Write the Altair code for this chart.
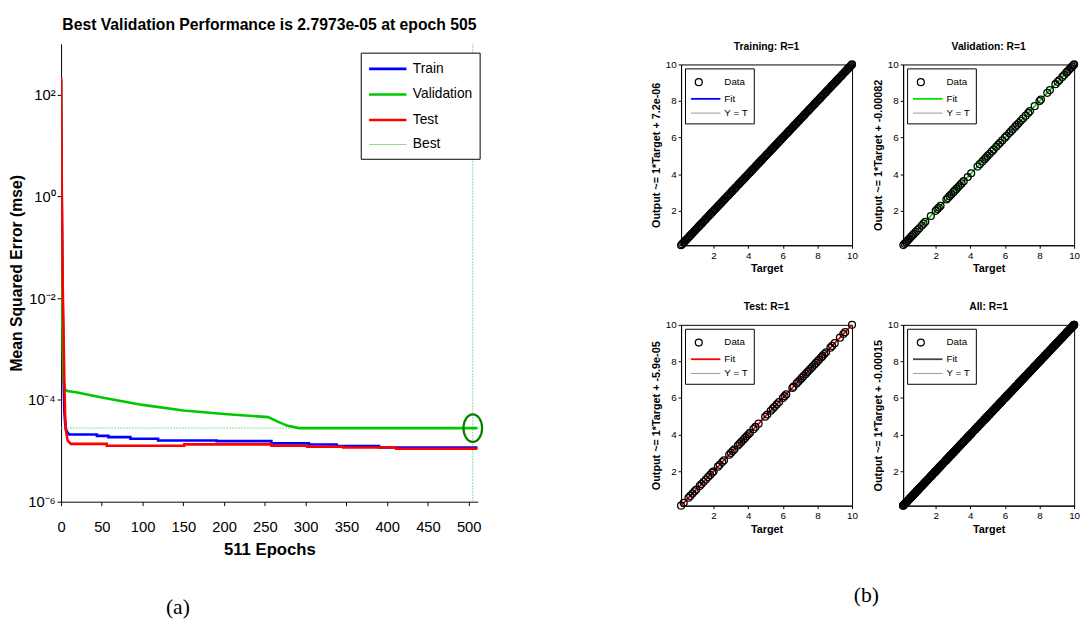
import altair as alt
import pandas as pd

FONT_N = "Liberation Sans Narrow, Arial Narrow, Liberation Sans, Arial, sans-serif"
FONT = "Liberation Sans, Arial, sans-serif"
SERIF = "Liberation Serif, Times New Roman, serif"

# ---------------- (a) training performance ----------------
n_epochs = 511
best_epoch = 505
best_perf = 2.7973e-05
y_limits = [1e-6, 1e3]

train_epoch = [0, 1, 2, 3, 4, 5, 6, 8, 10, 44, 44, 58, 58, 85, 85, 119, 119, 191, 191, 258, 258, 304, 304, 338, 338, 390, 390, 511]
train_mse = [2.0e2, 5e-1, 1e-2, 3e-4, 6e-5, 3.5e-5, 2.6e-5, 2.3e-5, 2.1e-5, 2.1e-5, 1.97e-5, 1.97e-5, 1.86e-5, 1.86e-5,
             1.73e-5, 1.73e-5, 1.6e-5, 1.6e-5, 1.55e-5, 1.55e-5, 1.4e-5, 1.4e-5, 1.33e-5, 1.33e-5, 1.25e-5, 1.25e-5,
             1.16e-5, 1.16e-5]

val_epoch = [0, 1, 2, 3, 5, 8, 20, 50, 100, 150, 200, 254, 265, 278, 292, 511]
val_mse = [2.0e2, 1e-2, 1e-3, 2.5e-4, 1.6e-4, 1.5e-4, 1.4e-4, 1.12e-4, 8e-5, 6.2e-5, 5.3e-5, 4.6e-5, 3.8e-5, 3.1e-5,
           2.7973e-5, 2.7973e-5]

test_epoch = [0, 1, 2, 3, 4, 5, 6, 8, 12, 56, 56, 151, 151, 258, 258, 302, 302, 346, 346, 411, 411, 511]
test_mse = [2.2e2, 1.0, 2e-2, 2.5e-3, 2.5e-4, 5e-5, 2.5e-5, 1.6e-5, 1.37e-5, 1.37e-5, 1.26e-5, 1.26e-5, 1.34e-5,
            1.34e-5, 1.26e-5, 1.26e-5, 1.2e-5, 1.2e-5, 1.16e-5, 1.16e-5, 1.1e-5, 1.1e-5]

perf_names = ["Train", "Validation", "Test", "Best"]
perf_colors = ["#0000ff", "#00c800", "#ff0000", "#8fd88f"]
perf_widths = [2.6, 2.6, 2.6, 1.0]
x_ticks_a = [0, 50, 100, 150, 200, 250, 300, 350, 400, 450, 500]
y_ticks_a = [1e-6, 1e-4, 1e-2, 1, 1e2]

# ---------------- (b) regression data ----------------
train_t = [0.12, 0.18, 0.25, 0.31, 0.36, 0.44, 0.5, 0.57, 0.63, 0.7, 0.76, 0.83, 0.9, 0.95, 1.02, 1.1, 1.16, 1.22,
           1.3, 1.35, 1.43, 1.5, 1.56, 1.63, 1.7, 1.77, 1.83, 1.9, 1.96, 2.04, 2.1, 2.17, 2.24, 2.3, 2.37, 2.43, 2.5,
           2.58, 2.63, 2.7, 2.78, 2.84, 2.9, 2.97, 3.05, 3.1, 3.18, 3.24, 3.3, 3.38, 3.45, 3.5, 3.57, 3.64, 3.7, 3.77,
           3.84, 3.9, 3.97, 4.05, 4.1, 4.18, 4.25, 4.3, 4.37, 4.44, 4.5, 4.58, 4.64, 4.7, 4.77, 4.83, 4.9, 4.97, 5.04,
           5.1, 5.17, 5.23, 5.3, 5.37, 5.44, 5.5, 5.56, 5.63, 5.7, 5.78, 5.84, 5.9, 5.97, 6.03, 6.1, 6.17, 6.24, 6.3,
           6.37, 6.43, 6.5, 6.57, 6.64, 6.7, 6.76, 6.83, 6.9, 6.97, 7.04, 7.1, 7.17, 7.23, 7.3, 7.37, 7.44, 7.5, 7.56,
           7.63, 7.7, 7.77, 7.83, 7.9, 7.97, 8.04, 8.1, 8.17, 8.23, 8.3, 8.37, 8.44, 8.5, 8.57, 8.63, 8.7, 8.77, 8.84,
           8.9, 8.96, 9.03, 9.1, 9.17, 9.23, 9.3, 9.37, 9.43, 9.5, 9.57, 9.63, 9.7, 9.77, 9.84, 9.9, 9.95, 10.0]
val_t = [0.13, 0.2, 0.28, 0.35, 0.42, 0.5, 0.58, 0.66, 0.74, 0.85, 0.95, 1.05, 1.2, 1.3, 1.4, 1.72, 2.0, 2.1, 2.18,
         2.28, 2.62, 2.7, 2.8, 2.9, 3.02, 3.1, 3.2, 3.3, 3.4, 3.5, 3.62, 3.85, 4.05, 4.42, 4.55, 4.7, 4.82, 4.9, 5.0,
         5.12, 5.25, 5.35, 5.5, 5.62, 5.72, 5.85, 6.0, 6.1, 6.25, 6.35, 6.45, 6.6, 6.7, 6.8, 6.92, 7.05, 7.2, 7.35,
         7.45, 7.72, 8.0, 8.08, 8.45, 8.6, 8.92, 9.05, 9.15, 9.32, 9.42, 9.55, 9.62, 9.72, 9.8, 9.88, 9.95, 10.0]
test_t = [0.12, 0.27, 0.55, 0.65, 0.78, 0.9, 1.0, 1.2, 1.3, 1.42, 1.55, 1.68, 1.8, 1.92, 2.0, 2.25, 2.35, 2.5, 2.6,
          2.9, 3.0, 3.1, 3.2, 3.4, 3.5, 3.6, 3.72, 3.82, 3.92, 4.02, 4.1, 4.3, 4.42, 4.6, 4.98, 5.1, 5.3, 5.42, 5.52,
          5.65, 5.78, 6.0, 6.1, 6.2, 6.55, 6.62, 6.8, 6.9, 7.0, 7.1, 7.2, 7.32, 7.42, 7.5, 7.6, 7.7, 7.82, 7.92, 8.02,
          8.1, 8.22, 8.3, 8.4, 8.5, 8.75, 8.85, 9.0, 9.3, 9.5, 9.6, 10.0]
all_t = train_t + val_t + test_t

panel_titles = ["Training: R=1", "Validation: R=1", "Test: R=1", "All: R=1"]
panel_intercepts = ["7.2e-06", "-0.00082", "-5.9e-05", "-0.00015"]
panel_fit_colors = ["#0000ff", "#00e000", "#ff0000", "#444444"]
line_ends = [0.12, 10.0]
reg_ticks = [2, 4, 6, 8, 10]
reg_names = ["Data", "Fit", "Y = T"]

# glyphs (unit box [-1,1] scaled by sqrt(size)/2)
DATA_CIRCLE = "M-0.44,0A0.44,0.44 0 1,1 0.44,0A0.44,0.44 0 1,1 -0.44,0Z"
SMALL_LINE = "M-1,0L2.75,0"
BIG_LINE = "M-1,0L3.75,0"
ELLIPSE_PATH = "M-0.68,0A0.68,1 0 1,1 0.68,0A0.68,1 0 1,1 -0.68,0Z"

indep = dict(color="independent", shape="independent", strokeWidth="independent")


def spacer(h):
    return alt.Chart(pd.DataFrame({"v": [0]})).mark_point(opacity=0, size=1).encode(
        x=alt.X("v:Q", axis=None), y=alt.Y("v:Q", axis=None)
    ).properties(width=1, height=h, view=alt.ViewBackground(stroke="transparent"))


# ---------------- panel (a) ----------------
rows = []
for name, ep, ms in [("Train", train_epoch, train_mse), ("Validation", val_epoch, val_mse), ("Test", test_epoch, test_mse)]:
    for i, (e, m) in enumerate(zip(ep, ms)):
        rows.append({"series": name, "epoch": e, "mse": m, "idx": i})
perf = pd.DataFrame(rows)

xs_a = alt.Scale(domain=[0, n_epochs], nice=False)
ys_a = alt.Scale(type="log", domain=y_limits, nice=False)
col_a = alt.Scale(domain=perf_names, range=perf_colors)
wid_a = alt.Scale(type="ordinal", domain=perf_names, range=perf_widths)
leg_a = alt.Legend(title=None, orient="none", legendX=305, legendY=9, symbolType=BIG_LINE, symbolSize=256,
                   labelFont=FONT_N, labelFontSize=14, labelColor="black", strokeColor="black", fillColor="white",
                   padding=7, rowPadding=9, labelOffset=27)

sup = "datum.value >= 10 ? '10²' : datum.value >= 0.1 ? '10⁰' : datum.value >= 0.001 ? '10⁻²' : datum.value >= 0.00001 ? '10⁻⁴' : '10⁻⁶'"
ax_x_a = alt.Axis(values=x_ticks_a, title=f"{n_epochs} Epochs", titleFont=FONT_N, titleFontSize=17,
                  titleFontWeight="bold", labelFont=FONT_N, labelFontSize=15, tickSize=4, labelFlush=False,
                  titlePadding=8, labelPadding=14, grid=False)
ax_y_a = alt.Axis(values=y_ticks_a, labelExpr=sup, title="Mean Squared Error  (mse)", titleFont=FONT,
                  titleFontSize=16, titleFontWeight="bold", labelFont=FONT_N, labelFontSize=15, tickSize=4,
                  titlePadding=3, labelPadding=2, grid=False)

best_df = pd.DataFrame({"series": ["Best", "Best"], "x": [0, best_epoch], "x2": [n_epochs, best_epoch],
                        "y": [best_perf, y_limits[0]], "y2": [best_perf, y_limits[1]]})
best = alt.Chart(best_df).mark_rule(strokeDash=[2, 1]).encode(
    x=alt.X("x:Q", scale=xs_a, axis=ax_x_a),
    x2="x2:Q",
    y=alt.Y("y:Q", scale=ys_a, axis=ax_y_a),
    y2="y2:Q",
    color=alt.Color("series:N", scale=col_a, legend=leg_a),
    strokeWidth=alt.StrokeWidth("series:N", scale=wid_a, legend=leg_a),
)
lines = alt.Chart(perf).mark_line(clip=True).encode(
    x=alt.X("epoch:Q", scale=xs_a, axis=ax_x_a),
    y=alt.Y("mse:Q", scale=ys_a, axis=ax_y_a),
    color=alt.Color("series:N", scale=col_a, legend=leg_a),
    strokeWidth=alt.StrokeWidth("series:N", scale=wid_a, legend=leg_a),
    order="idx:Q",
)
circ = alt.Chart(pd.DataFrame({"epoch": [best_epoch], "mse": [best_perf]})).mark_point(
    shape=ELLIPSE_PATH, size=784, color="#008000", strokeWidth=2.2, filled=False, opacity=1
).encode(x=alt.X("epoch:Q", scale=xs_a), y=alt.Y("mse:Q", scale=ys_a))

left = alt.layer(best, lines, circ).properties(
    width=424, height=466,
    title=alt.TitleParams(f"Best Validation Performance is {best_perf:.4e} at epoch {best_epoch}",
                          font=FONT_N, fontSize=16, fontWeight="bold", offset=11, anchor="middle"),
    view=alt.ViewBackground(stroke="transparent"),
)
left_group = alt.vconcat(spacer(1), left, spacing=0,
                         title=alt.TitleParams("(a)", orient="bottom", anchor="middle", dx=-71, offset=40,
                                               font=SERIF, fontSize=22, fontWeight="normal")
                         ).resolve_scale(**indep)


# ---------------- panel (b) ----------------
def panel(k, targets):
    pts = pd.DataFrame({"target": targets, "output": targets, "series": "Data"})
    lns = pd.DataFrame({"target": line_ends + line_ends, "output": line_ends + line_ends,
                        "series": ["Y = T", "Y = T", "Fit", "Fit"]})
    sx = alt.Scale(domain=[line_ends[0], line_ends[1]], nice=False)
    sy = alt.Scale(domain=[line_ends[0], line_ends[1]], nice=False)
    cs = alt.Scale(domain=reg_names, range=["black", panel_fit_colors[k], "#9a9a9a"])
    ss = alt.Scale(domain=reg_names, range=[DATA_CIRCLE, SMALL_LINE, SMALL_LINE])
    ws = alt.Scale(type="ordinal", domain=reg_names, range=[1.3, 1.8, 1])
    leg = alt.Legend(title=None, orient="none", legendX=4, legendY=4, symbolSize=256, labelFont=FONT,
                     labelFontSize=10, labelColor="black", strokeColor="black", fillColor="white", padding=5,
                     rowPadding=1, symbolFillColor="transparent", labelOffset=17)
    axx = alt.Axis(values=reg_ticks, title="Target", titleFont=FONT, titleFontSize=11, titleFontWeight="bold",
                   labelFont=FONT, labelFontSize=10, tickSize=3, labelFlush=False, titlePadding=3, labelPadding=2,
                   grid=False)
    axy = alt.Axis(values=reg_ticks, title=f"Output ~= 1*Target + {panel_intercepts[k]}", titleFont=FONT,
                   titleFontSize=11, titleFontWeight="bold", labelFont=FONT, labelFontSize=10, tickSize=3,
                   titlePadding=4, labelPadding=2, grid=False)
    line_layer = alt.Chart(lns).mark_line().encode(
        x=alt.X("target:Q", scale=sx, axis=axx),
        y=alt.Y("output:Q", scale=sy, axis=axy),
        color=alt.Color("series:N", scale=cs, legend=leg),
        strokeWidth=alt.StrokeWidth("series:N", scale=ws, legend=leg),
    )
    pt_layer = alt.Chart(pts).mark_point(size=256, filled=False, opacity=1).encode(
        x=alt.X("target:Q", scale=sx, axis=axx),
        y=alt.Y("output:Q", scale=sy, axis=axy),
        color=alt.Color("series:N", scale=cs, legend=leg),
        shape=alt.Shape("series:N", scale=ss, legend=leg),
        strokeWidth=alt.StrokeWidth("series:N", scale=ws, legend=leg),
    )
    return alt.layer(line_layer, pt_layer).properties(
        width=174, height=184,
        title=alt.TitleParams(panel_titles[k], font=FONT, fontSize=10.5, fontWeight="bold", offset=6),
    )


row1 = alt.hconcat(panel(0, train_t), panel(1, val_t), spacing=13).resolve_scale(**indep)
row2 = alt.hconcat(panel(2, test_t), panel(3, all_t), spacing=13).resolve_scale(**indep)
top_part = alt.vconcat(spacer(26), row1, spacing=0).resolve_scale(**indep)
right_group = alt.vconcat(top_part, row2, spacing=27,
                          title=alt.TitleParams("(b)", orient="bottom", anchor="middle", dx=1, offset=52,
                                                font=SERIF, fontSize=22, fontWeight="normal")
                          ).resolve_scale(**indep)

chart = alt.hconcat(left_group, right_group, spacing=165).resolve_scale(**indep).properties(
    padding={"left": 0, "top": 0, "right": 0, "bottom": 0}
).configure_view(stroke="black", strokeWidth=1).configure_axis(
    domainColor="black", tickColor="black", labelColor="black", titleColor="black", grid=False
).configure_title(color="black")

chart.save("out.html", embed_options={"renderer": "svg", "actions": False})
